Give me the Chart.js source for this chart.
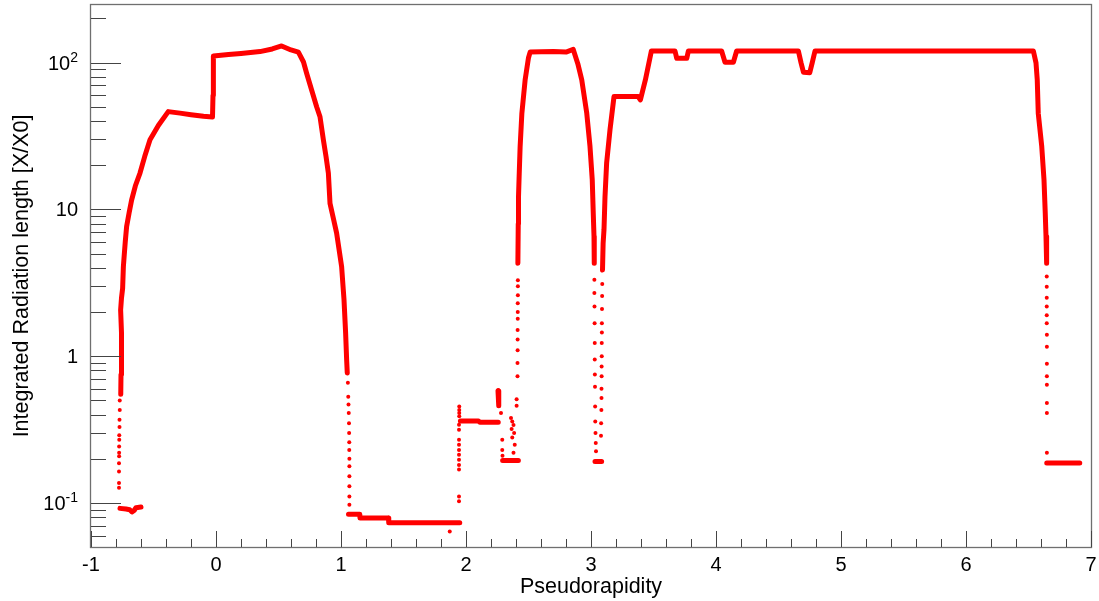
<!DOCTYPE html>
<html>
<head>
<meta charset="utf-8">
<script src="https://cdn.jsdelivr.net/npm/chart.js@4/dist/chart.umd.min.js"></script>
<style>
  html, body { margin: 0; padding: 0; background: #fff; }
  #wrap { width: 1099px; height: 601px; }
</style>
</head>
<body>
<div id="wrap"><canvas id="plot"></canvas></div>
<script>
// continuous parts of the scan (null breaks the line)
var etaCurve = [
  -0.762, -0.760, -0.757, -0.755, -0.763, -0.756, -0.747, -0.741, -0.734, -0.726,
  -0.715, -0.695, -0.675, -0.645, -0.608, -0.570, -0.528, -0.460, -0.382, -0.288,
  -0.200, -0.100, -0.028, -0.024, -0.022, -0.020, 0.100, 0.200, 0.352, 0.450,
  0.525, 0.600, 0.659, 0.700, 0.725, 0.765, 0.805, 0.832, 0.859, 0.880,
  0.899, 0.912, 0.940, 0.965, 0.985, 1.005, 1.015, 1.024, 1.037, 1.045, 1.050, 1.050,
  1.060, 1.150, 1.152, 1.380, 1.382, 1.950, 1.950,
  1.955, 2.100, 2.110, 2.258, 2.258,
  2.256, 2.262, 2.262,
  2.293, 2.419, 2.419,
  2.415, 2.418, 2.420, 2.425, 2.433, 2.447, 2.473, 2.500, 2.513, 2.600,
  2.700, 2.800, 2.858, 2.895, 2.926, 2.966, 2.992, 3.010, 3.018, 3.024, 3.026, 3.026,
  3.032, 3.085, 3.085,
  3.092, 3.097, 3.104, 3.112, 3.125, 3.152, 3.184, 3.378, 3.395, 3.435,
  3.483, 3.672, 3.686, 3.766, 3.779, 4.045, 4.072, 4.139, 4.165, 4.659,
  4.680, 4.700, 4.750, 4.770, 4.792, 6.539, 6.560, 6.570, 6.578, 6.606,
  6.624, 6.634, 6.640, 6.645, 6.645,
  6.646, 6.910, 6.910,
  -0.768, -0.720, -0.690, -0.672, -0.655, -0.640, -0.600
];
var radCurve = [
  0.55, 0.75, 1.0, 1.44, 2.07, 2.5, 2.9, 4.08, 4.9, 6.0,
  7.66, 9.5, 11.6, 14.5, 17.7, 23.0, 29.8, 37.5, 46.4, 45.3,
  44.2, 43.1, 42.6, 60, 85, 111, 113.5, 115.5, 118.9, 124,
  130, 122, 117.8, 101, 84.7, 65.2, 50.1, 42.8, 29.8, 23.0,
  17.7, 11.0, 8.6, 6.9, 5.3, 4.08, 3.1, 2.43, 1.44, 0.95, 0.77, null,
  0.084, 0.084, 0.079, 0.079, 0.0733, 0.0733, null,
  0.362, 0.362, 0.355, 0.355, null,
  0.58, 0.46, null,
  0.195, 0.195, null,
  4.3, 8.0, 12.2, 16.7, 26.8, 45.3, 76.3, 108, 118, 118.5,
  119, 118, 123, 98, 76.3, 45.3, 26.8, 15.9, 9.44, 6.55, 4.3, null,
  0.192, 0.192, null,
  3.87, 5.9, 7.3, 12.2, 20.7, 34.9, 58.7, 58.7, 55.7, 76.3,
  120, 120, 107, 107, 120, 120, 100.6, 100.6, 120, 120,
  100, 86, 85.5, 100, 120, 120, 99.6, 76.3, 45.3, 26.8,
  15.9, 9.44, 6.55, 4.3, null,
  0.1875, 0.1875, null,
  0.092, 0.091, 0.090, 0.087, 0.089, 0.093, 0.094
];

// isolated points where the scan falls steeply
var etaDots = [
  -0.770, -0.770, -0.772, -0.772, -0.774, -0.774, -0.775, -0.775, -0.775, -0.776, -0.776, -0.776, -0.776,
  1.055, 1.058, 1.060, 1.062, 1.064, 1.065, 1.066, 1.066, 1.067, 1.067, 1.067, 1.067, 1.067, 1.067,
  1.870, 1.944, 1.944, 1.944, 1.944, 1.944, 1.944, 1.944, 1.944, 1.944, 1.944, 1.944, 1.946, 1.946, 1.946, 1.946,
  2.258, 2.258, 2.260, 2.260, 2.262, 2.262, 2.264, 2.280, 2.290, 2.290, 2.292,
  2.360, 2.370, 2.380, 2.365, 2.385, 2.370, 2.390, 2.380, 2.405, 2.405,
  2.412, 2.412, 2.413, 2.413, 2.413, 2.414, 2.414, 2.414, 2.415, 2.415, 2.415,
  3.027, 3.027, 3.028, 3.029, 3.030, 3.030, 3.031, 3.032, 3.033, 3.034, 3.036, 3.038, 3.040,
  3.080, 3.081, 3.083, 3.084, 3.084, 3.085, 3.085, 3.086, 3.086, 3.087, 3.087, 3.088, 3.089, 3.090,
  6.646, 6.646, 6.646, 6.646, 6.646, 6.646, 6.647, 6.647, 6.647, 6.647, 6.647, 6.647, 6.647, 6.647
];
var radDots = [
  0.50, 0.43, 0.37, 0.33, 0.29, 0.27, 0.243, 0.22, 0.208, 0.187, 0.164, 0.137, 0.127,
  0.66, 0.53, 0.47, 0.41, 0.35, 0.30, 0.26, 0.23, 0.20, 0.178, 0.152, 0.13, 0.111, 0.0975,
  0.064, 0.103, 0.111, 0.169, 0.182, 0.197, 0.213, 0.23, 0.25, 0.27, 0.316, 0.342, 0.39, 0.41, 0.43, 0.455,
  0.59, 0.57, 0.55, 0.53, 0.51, 0.49, 0.47, 0.41, 0.27, 0.23, 0.21,
  0.38, 0.36, 0.34, 0.32, 0.30, 0.28, 0.25, 0.22, 0.51, 0.46,
  0.73, 0.9, 1.1, 1.3, 1.51, 1.8, 2.0, 2.3, 2.6, 3.0, 3.3,
  3.32, 2.7, 2.18, 1.68, 1.23, 0.95, 0.75, 0.62, 0.455, 0.36, 0.30, 0.257, 0.225,
  0.287, 0.35, 0.43, 0.52, 0.6, 0.73, 0.85, 1.0, 1.23, 1.45, 1.68, 2.1, 2.57, 3.1,
  3.5, 2.98, 2.5, 2.18, 1.9, 1.68, 1.4, 1.16, 0.89, 0.73, 0.64, 0.48, 0.41, 0.22
];

var xTicks = [-1, 0, 1, 2, 3, 4, 5, 6, 7];
var xTickLabels = ["-1", "0", "1", "2", "3", "4", "5", "6", "7"];
var yDecades = [0.1, 1, 10, 100];
var yDecadeBase = ["10", "1", "10", "10"];
var yDecadeExp = ["-1", "", "", "2"];

var xMin = -1, xMax = 7;
var yMin = 0.0502, yMax = 247;

var red = "#ff0000";
var labelFont = "20px 'Liberation Sans', Arial, sans-serif";
var supFont = "14px 'Liberation Sans', Arial, sans-serif";
var titleFont = "21.5px 'Liberation Sans', Arial, sans-serif";

// ROOT style frame: ticks drawn inside the pad, labels outside
var rootAxes = {
  id: "rootAxes",
  afterDraw: function (chart) {
    var ctx = chart.ctx;
    var area = chart.chartArea;
    var xs = chart.scales.x;
    var ys = chart.scales.y;
    ctx.save();

    ctx.strokeStyle = "#6f6f6f";
    ctx.lineWidth = 1.3;
    ctx.strokeRect(area.left - 0.5, area.top - 0.5, area.right - area.left + 1, area.bottom - area.top + 1);

    ctx.strokeStyle = "#444";
    ctx.lineWidth = 1;
    ctx.beginPath();
    for (var i = 0; i <= 40; i++) {
      var v = xMin + i * 0.2;
      var px = Math.round(xs.getPixelForValue(v)) + 0.5;
      var len = i % 5 === 0 ? 16 : 8;
      ctx.moveTo(px, area.bottom);
      ctx.lineTo(px, area.bottom - len);
    }
    [0.01, 0.1, 1, 10, 100].forEach(function (d) {
      for (var m = 1; m <= 9; m++) {
        var val = m * d;
        if (val < yMin || val > yMax) continue;
        var py = Math.round(ys.getPixelForValue(val)) + 0.5;
        ctx.moveTo(area.left, py);
        ctx.lineTo(area.left + (m === 1 ? 30 : 15), py);
      }
    });
    ctx.stroke();

    ctx.fillStyle = "#000";
    ctx.font = labelFont;
    ctx.textAlign = "center";
    ctx.textBaseline = "alphabetic";
    xTicks.forEach(function (v, i) {
      ctx.fillText(xTickLabels[i], xs.getPixelForValue(v), area.bottom + 24);
    });

    var right = area.left - 13;
    yDecades.forEach(function (v, i) {
      var py = ys.getPixelForValue(v);
      var supW = 0;
      if (yDecadeExp[i]) {
        ctx.font = supFont;
        supW = ctx.measureText(yDecadeExp[i]).width;
        ctx.textAlign = "left";
        ctx.fillText(yDecadeExp[i], right - supW, py - 1);
      }
      ctx.font = labelFont;
      ctx.textAlign = "right";
      ctx.fillText(yDecadeBase[i], right - supW, py + 7);
    });

    ctx.font = titleFont;
    ctx.textAlign = "center";
    ctx.fillText("Pseudorapidity", (area.left + area.right) / 2, 593);

    ctx.translate(28, (area.top + area.bottom) / 2);
    ctx.rotate(-Math.PI / 2);
    ctx.fillText("Integrated Radiation length [X/X0]", 0, 0);
    ctx.restore();
  },
};

var chart = new Chart(document.getElementById("plot"), {
  type: "scatter",
  data: {
    datasets: [
      {
        label: "scan",
        data: etaCurve.map((x, i) => ({ x: x, y: radCurve[i] })),
        showLine: true,
        spanGaps: false,
        borderColor: red,
        borderWidth: 5,
        borderCapStyle: "round",
        borderJoinStyle: "round",
        pointRadius: 0,
        tension: 0,
      },
      {
        label: "dots",
        data: etaDots.map((x, i) => ({ x: x, y: radDots[i] })),
        backgroundColor: red,
        borderWidth: 0,
        pointRadius: 2,
      },
    ],
  },
  options: {
    responsive: true,
    maintainAspectRatio: false,
    animation: false,
    layout: { padding: { top: 5, right: 8, left: 0, bottom: 0 } },
    scales: {
      x: {
        type: "linear",
        min: xMin,
        max: xMax,
        grid: { display: false },
        border: { display: false },
        ticks: { display: false },
        afterFit: function (scale) {
          scale.height = 54;
        },
      },
      y: {
        type: "logarithmic",
        min: yMin,
        max: yMax,
        grid: { display: false },
        border: { display: false },
        ticks: { display: false },
        afterFit: function (scale) {
          scale.width = 91;
        },
      },
    },
    plugins: {
      legend: { display: false },
      tooltip: { enabled: false },
    },
  },
  plugins: [rootAxes],
});
</script>
</body>
</html>
